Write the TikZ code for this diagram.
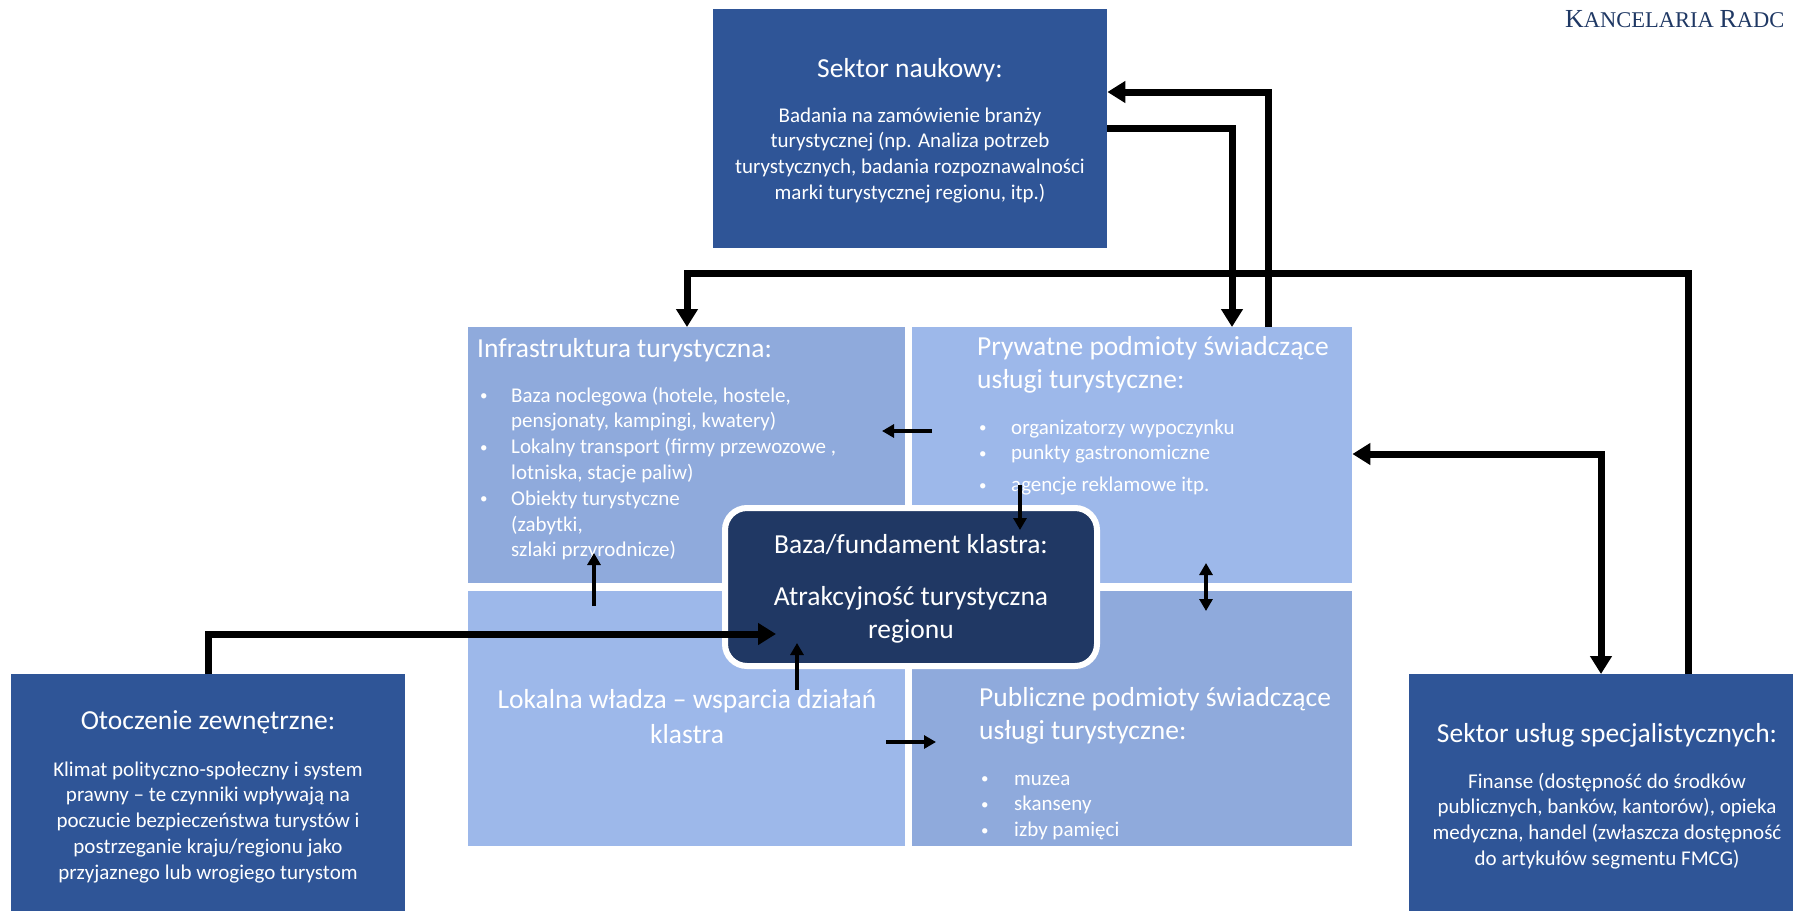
\documentclass[tikz,border=0pt]{standalone}
\usepackage{fontspec}
\setmainfont{Carlito}
\newfontfamily\kancfont{Liberation Serif}
\usetikzlibrary{arrows.meta}
\definecolor{ciemny}{HTML}{2F5597}
\definecolor{granat}{HTML}{203864}
\definecolor{jasnyA}{HTML}{8FAADC}
\definecolor{jasnyB}{HTML}{9DB8EA}
\definecolor{napis}{HTML}{1F3864}
\newcommand{\kropka}{\raisebox{1.5pt}{\fontsize{15}{15}\selectfont\textbullet}}
\begin{document}
\begin{tikzpicture}[x=1pt, y=-1pt,
  pole/.style={anchor=north west, inner sep=0pt, draw=none},
  tytul/.style={text=white, inner sep=0pt, font=\fontsize{27.5}{33}\selectfont},
  tresc/.style={text=white, inner sep=0pt, font=\fontsize{21}{25.8}\selectfont},
  gruba/.style={line width=7pt},
  grot/.style={-{Triangle[length=18pt,width=21pt]}},
  grot2/.style={{Triangle[length=18pt,width=21pt]}-{Triangle[length=18pt,width=21pt]}},
  cienka/.style={line width=4pt, -{Triangle[length=12pt,width=13pt]}},
  cienka2/.style={line width=4pt, {Triangle[length=12pt,width=13pt]}-{Triangle[length=12pt,width=13pt]}}]
\useasboundingbox[fill=white] (0,0) rectangle (1793,911);
\node[pole, fill=ciemny, minimum width=394pt, minimum height=239pt] (nauk) at (713,9) {};
\node[pole, fill=jasnyA, minimum width=437pt, minimum height=256pt] (infra) at (468,327) {};
\node[pole, fill=jasnyB, minimum width=440pt, minimum height=256pt] (pryw) at (912,327) {};
\node[pole, fill=jasnyB, minimum width=437pt, minimum height=255pt] (lok) at (468,591) {};
\node[pole, fill=jasnyA, minimum width=440pt, minimum height=255pt] (publ) at (912,591) {};
\node[pole, fill=ciemny, minimum width=394pt, minimum height=237pt] (oto) at (11,674) {};
\node[pole, fill=ciemny, minimum width=384pt, minimum height=237pt] (usl) at (1409,674) {};
\node[draw=white, line width=6pt, fill=granat, rounded corners=22pt, inner sep=0pt, minimum width=372pt, minimum height=158pt] (baza) at (911,587) {};

\node[anchor=base west, inner sep=0pt, text=napis, font=\kancfont] (kanc) at (1565,27) {\fontsize{26}{26}\selectfont K\fontsize{22.5}{26}\selectfont ANCELARIA \fontsize{26}{26}\selectfont R\fontsize{22.5}{26}\selectfont ADC};

\node[tytul, anchor=base] (naukT) at (910,77) {Sektor naukowy:};
\node[tresc, anchor=base] (naukB) at (910,122) {\begin{tabular}[t]{@{}c@{}}
Badania na zamówienie branży\\
turystycznej (np. Analiza potrzeb\\
turystycznych, badania rozpoznawalności\\
marki turystycznej regionu, itp.)
\end{tabular}};

\node[tytul, anchor=base west] (infraT) at (477,357) {Infrastruktura turystyczna:};
\node[tresc, anchor=base west] (infraB) at (480,402) {\begin{tabular}[t]{@{}p{31pt}@{}l@{}}
\kropka & Baza noclegowa (hotele, hostele,\\
 & pensjonaty, kampingi, kwatery)\\
\kropka & Lokalny transport (firmy przewozowe ,\\
 & lotniska, stacje paliw)\\
\kropka & Obiekty turystyczne\\
 & (zabytki,\\
 & szlaki przyrodnicze)
\end{tabular}};

\node[tytul, anchor=base west] (prywT) at (977,355) {\begin{tabular}[t]{@{}l@{}}
Prywatne podmioty świadczące\\
usługi turystyczne:
\end{tabular}};
\node[tresc, anchor=base west] (prywB) at (979,434) {\begin{tabular}[t]{@{}p{32pt}@{}l@{}}
\kropka & organizatorzy wypoczynku\\
\kropka & punkty gastronomiczne\\[6pt]
\kropka & agencje reklamowe itp.
\end{tabular}};

\node[tytul, anchor=base] (bazaT) at (911,553) {Baza/fundament klastra:};
\node[tytul, anchor=base] (bazaB) at (911,605) {\begin{tabular}[t]{@{}c@{}}
Atrakcyjność turystyczna\\
regionu
\end{tabular}};

\node[tytul, anchor=base] (lokT) at (687,708) {\begin{tabular}[t]{@{}c@{}}
Lokalna władza – wsparcia działań\\[2pt]
klastra
\end{tabular}};

\node[tytul, anchor=base west] (publT) at (979,706) {\begin{tabular}[t]{@{}l@{}}
Publiczne podmioty świadczące\\
usługi turystyczne:
\end{tabular}};
\node[tresc, anchor=base west] (publB) at (981,785) {\begin{tabular}[t]{@{}p{33pt}@{}l@{}}
\kropka & muzea\\
\kropka & skanseny\\
\kropka & izby pamięci
\end{tabular}};

\node[tytul, anchor=base] (otoT) at (208,729) {Otoczenie zewnętrzne:};
\node[tresc, anchor=base] (otoB) at (208,776) {\begin{tabular}[t]{@{}c@{}}
Klimat polityczno-społeczny i system\\
prawny – te czynniki wpływają na\\
poczucie bezpieczeństwa turystów i\\
postrzeganie kraju/regionu jako\\
przyjaznego lub wrogiego turystom
\end{tabular}};

\node[tytul, anchor=base] (uslT) at (1607,742) {Sektor usług specjalistycznych:};
\node[tresc, anchor=base] (uslB) at (1607,788) {\begin{tabular}[t]{@{}c@{}}
Finanse (dostępność do środków\\
publicznych, banków, kantorów), opieka\\
medyczna, handel (zwłaszcza dostępność\\
do artykułów segmentu FMCG)
\end{tabular}};

\coordinate (nauA) at (1268,92);
\coordinate (nauB) at (1232,128);
\coordinate (uslA) at (1601,454);
\coordinate (uslC) at (1688,273);
\coordinate (infA) at (687,273);
\coordinate (otoA) at (208,634);
\coordinate (bazaW) at (776,634);
\coordinate (prywL) at (932,431);
\coordinate (infraR) at (882,431);
\coordinate (lokG) at (594,606);
\coordinate (infraD) at (594,553);
\coordinate (prywD) at (1020,485);
\coordinate (bazaG) at (1020,530);
\coordinate (prywS) at (1206,563);
\coordinate (publS) at (1206,611);
\coordinate (lokS) at (797,690);
\coordinate (bazaD) at (797,643);
\coordinate (lokP) at (886,742);
\coordinate (publL) at (936,742);

\draw[gruba, grot](pryw.north -| nauA) |- (nauk.east |- nauA);
\draw[gruba, grot](nauk.east |- nauB) -| (pryw.north -| nauB);
\draw[gruba, grot2](pryw.east |- uslA) -| (usl.north -| uslA);
\draw[gruba, grot](usl.north -| uslC) |- (infA) -- (infra.north -| infA);
\draw[gruba, grot](oto.north -| otoA) |- (bazaW);
\draw[cienka](prywL) -- (infraR);
\draw[cienka](lokG) -- (infraD);
\draw[cienka](prywD) -- (bazaG);
\draw[cienka2](prywS) -- (publS);
\draw[cienka](lokS) -- (bazaD);
\draw[cienka](lokP) -- (publL);
\end{tikzpicture}
\end{document}
